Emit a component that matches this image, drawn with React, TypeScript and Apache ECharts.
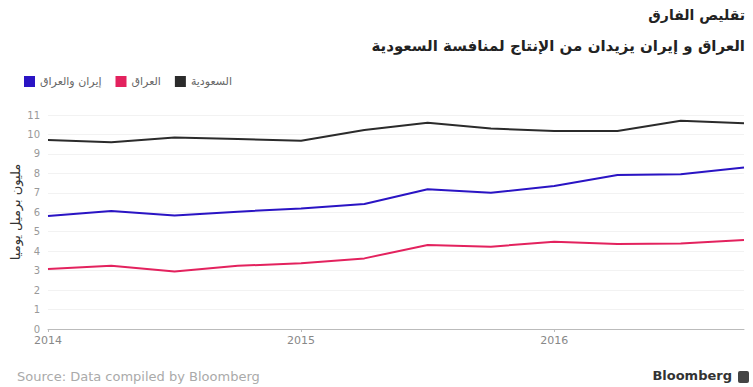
import React, { useEffect, useRef } from "react";
import * as echarts from "echarts";

const quarters = [2014, 2014.25, 2014.5, 2014.75, 2015, 2015.25, 2015.5, 2015.75, 2016, 2016.25, 2016.5, 2016.75];
const saudi = [9.72, 9.6, 9.84, 9.77, 9.68, 10.23, 10.6, 10.3, 10.18, 10.18, 10.7, 10.58];
const iranIraq = [5.81, 6.07, 5.83, 6.03, 6.2, 6.43, 7.18, 7.0, 7.35, 7.92, 7.95, 8.3];
const iraq = [3.08, 3.25, 2.95, 3.25, 3.38, 3.63, 4.32, 4.23, 4.49, 4.37, 4.4, 4.58];

const nameSaudi = "السعودية";
const nameIraq = "العراق";
const nameIranIraq = "إيران والعراق";
const titleText = "تقليص الفارق";
const subtitleText = "العراق و إيران يزيدان من الإنتاج لمنافسة السعودية";
const yName = "مليون برميل يوميا";
const sourceText = "Source: Data compiled by Bloomberg";

const FONT = "DejaVu Sans, Liberation Sans, sans-serif";

export default function App() {
  const ref = useRef<HTMLDivElement>(null);
  useEffect(() => {
    document.body.style.margin = "0";
    const chart = echarts.init(ref.current!, undefined, { renderer: "svg" });
    const pair = (ys: number[]) => quarters.map((q, i) => [q, ys[i]]);
    chart.setOption({
      animation: false,
      backgroundColor: "#ffffff",
      textStyle: { fontFamily: FONT },
      title: [
        {
          text: titleText,
          right: 3,
          top: 3,
          textStyle: { fontSize: 14, fontWeight: "bold", color: "#222", fontFamily: FONT },
        },
        {
          text: subtitleText,
          right: 3,
          top: 33,
          textStyle: { fontSize: 15, fontWeight: "bold", color: "#222", fontFamily: FONT },
        },
      ],
      legend: {
        left: 19,
        top: 71,
        icon: "rect",
        itemWidth: 11,
        itemHeight: 11,
        itemGap: 14,
        data: [nameIranIraq, nameIraq, nameSaudi],
        textStyle: { fontSize: 11, color: "#666", fontFamily: FONT },
      },
      grid: { left: 48, right: 9, top: 115, bottom: 58 },
      xAxis: {
        type: "value",
        min: 2014,
        max: 2016.75,
        interval: 1,
        axisLine: { show: true, lineStyle: { color: "#bbb", width: 1 } },
        axisTick: { show: true, length: 3, lineStyle: { color: "#bbb" } },
        splitLine: { show: false },
        axisLabel: {
          color: "#888",
          fontSize: 11,
          margin: 6,
          fontFamily: FONT,
          formatter: (v: number) => String(v),
          showMaxLabel: false,
        },
      },
      yAxis: {
        type: "value",
        min: 0,
        max: 11,
        interval: 1,
        axisLine: { show: false },
        axisTick: { show: false },
        splitLine: { lineStyle: { color: "#f2f2f2", width: 1 } },
        axisLabel: { color: "#999", fontSize: 10, margin: 8, fontFamily: FONT },
      },
      graphic: [
        {
          type: "text",
          x: 15,
          y: 212,
          rotation: Math.PI / 2,
          style: {
            text: yName,
            fontSize: 13,
            fill: "#333",
            fontFamily: FONT,
            align: "center",
            verticalAlign: "middle",
          },
        },
        {
          type: "text",
          left: 17,
          top: 370,
          style: { text: sourceText, fontSize: 13, fill: "#aaa", fontFamily: FONT },
        },
        {
          type: "text",
          right: 21,
          top: 369,
          style: { text: "Bloomberg", fontSize: 13, fontWeight: "bold", fill: "#333", fontFamily: FONT },
        },
        {
          type: "rect",
          right: 4,
          top: 371,
          shape: { width: 11, height: 12, r: 2 },
          style: { fill: "#444" },
        },
      ],
      series: [
        {
          name: nameSaudi,
          type: "line",
          data: pair(saudi),
          showSymbol: false,
          symbol: "none",
          lineStyle: { color: "#2b2b2b", width: 2 },
          itemStyle: { color: "#2b2b2b" },
        },
        {
          name: nameIranIraq,
          type: "line",
          data: pair(iranIraq),
          showSymbol: false,
          symbol: "none",
          lineStyle: { color: "#2a14c4", width: 2 },
          itemStyle: { color: "#2a14c4" },
        },
        {
          name: nameIraq,
          type: "line",
          data: pair(iraq),
          showSymbol: false,
          symbol: "none",
          lineStyle: { color: "#e3225e", width: 2 },
          itemStyle: { color: "#e3225e" },
        },
      ],
    });
    return () => chart.dispose();
  }, []);
  return (
    <div
      ref={ref}
      style={{ position: "absolute", left: 0, top: 0, width: 753, height: 387 }}
    />
  );
}
